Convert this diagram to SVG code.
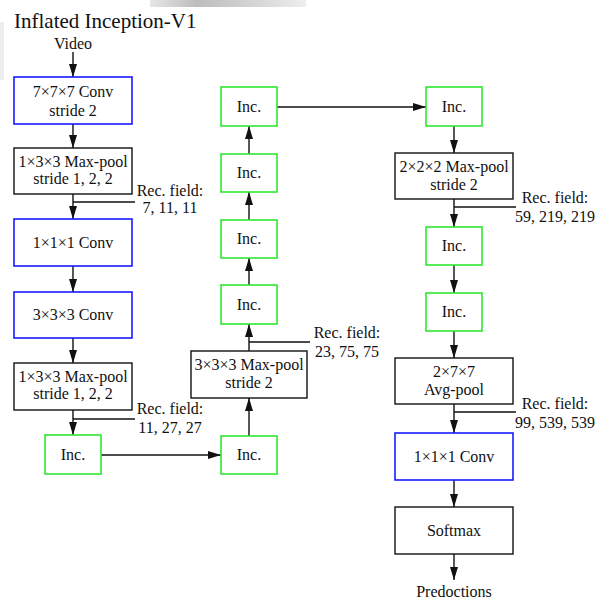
<svg xmlns="http://www.w3.org/2000/svg" width="606" height="599" viewBox="0 0 606 599">
<style>
text{font-family:"Liberation Serif","Times New Roman",serif;font-size:16px;fill:#111;text-anchor:middle}
.title{font-size:21px;text-anchor:start}
.box{fill:#fff;stroke:#111;stroke-width:1.4}
.conv{fill:#fff;stroke:#1a1aff;stroke-width:1.6}
.inc{fill:#fff;stroke:#2fe82f;stroke-width:1.6}
.edge{stroke:#111;stroke-width:1.4;fill:none}
.arr{marker-end:url(#ah)}
</style>
<defs>
<marker id="ah" viewBox="0 0 13 8" refX="13" refY="4" markerWidth="13" markerHeight="8" markerUnits="userSpaceOnUse" orient="auto">
<path d="M0,0 L13,4 L0,8 z" fill="#111"/>
</marker>
<linearGradient id="smudge" x1="0" y1="0" x2="1" y2="0">
<stop offset="0" stop-color="#e6e6e6"/>
<stop offset="0.3" stop-color="#bdbdbd"/>
<stop offset="0.6" stop-color="#d0d0d0"/>
<stop offset="1" stop-color="#eeeeee"/>
</linearGradient>
</defs>
<rect width="606" height="599" fill="#fff"/>
<g id="background">
<rect x="150" y="0" width="156" height="7" fill="url(#smudge)"/>
<rect x="0" y="22" width="4" height="58" fill="#eeeeee"/>
</g>
<text class="title" x="14" y="28">Inflated Inception-V1</text>
<text x="73" y="49">Video</text>
<text x="454" y="597">Predoctions</text>

<g id="connectors">
<line class="edge arr" x1="73" y1="52" x2="73" y2="77"/>
<line class="edge arr" x1="73" y1="124" x2="73" y2="148"/>
<line class="edge arr" x1="73" y1="194" x2="73" y2="219"/>
<line class="edge" x1="73" y1="202" x2="135" y2="202"/>
<line class="edge arr" x1="73" y1="266" x2="73" y2="292"/>
<line class="edge arr" x1="73" y1="338" x2="73" y2="363"/>
<line class="edge arr" x1="73" y1="410" x2="73" y2="435"/>
<line class="edge" x1="73" y1="419" x2="135" y2="419"/>
<line class="edge arr" x1="101" y1="455" x2="221" y2="455"/>
<line class="edge arr" x1="249" y1="436" x2="249" y2="398"/>
<line class="edge arr" x1="249" y1="351" x2="249" y2="324"/>
<line class="edge" x1="249" y1="342" x2="310" y2="342"/>
<line class="edge arr" x1="249" y1="285" x2="249" y2="258"/>
<line class="edge arr" x1="249" y1="220" x2="249" y2="192"/>
<line class="edge arr" x1="249" y1="154" x2="249" y2="126"/>
<line class="edge arr" x1="277" y1="107" x2="426" y2="107"/>
<line class="edge arr" x1="454" y1="126" x2="454" y2="153"/>
<line class="edge arr" x1="454" y1="199" x2="454" y2="227"/>
<line class="edge" x1="454" y1="207" x2="516" y2="207"/>
<line class="edge arr" x1="454" y1="265" x2="454" y2="293"/>
<line class="edge arr" x1="454" y1="331" x2="454" y2="358"/>
<line class="edge arr" x1="454" y1="404" x2="454" y2="433"/>
<line class="edge" x1="454" y1="412" x2="516" y2="412"/>
<line class="edge arr" x1="454" y1="480" x2="454" y2="507"/>
<line class="edge arr" x1="454" y1="554" x2="454" y2="580"/>
</g>

<g id="recfields">
<text x="170" y="196">Rec. field:</text>
<text x="170" y="213">7, 11, 11</text>
<text x="170" y="414">Rec. field:</text>
<text x="170" y="433">11, 27, 27</text>
<text x="347" y="338">Rec. field:</text>
<text x="347" y="357">23, 75, 75</text>
<text x="555" y="203">Rec. field:</text>
<text x="555" y="222">59, 219, 219</text>
<text x="555" y="409">Rec. field:</text>
<text x="555" y="428">99, 539, 539</text>
</g>

<g id="conv7">
<rect class="conv" x="14" y="77" width="118" height="47"/>
<text x="73" y="97">7×7×7 Conv</text>
<text x="73" y="116">stride 2</text>
</g>
<g id="maxpool1">
<rect class="box" x="14" y="148" width="118" height="46"/>
<text x="73" y="167">1×3×3 Max-pool</text>
<text x="73" y="184">stride 1, 2, 2</text>
</g>
<g id="conv1">
<rect class="conv" x="14" y="219" width="118" height="47"/>
<text x="73" y="248">1×1×1 Conv</text>
</g>
<g id="conv3">
<rect class="conv" x="14" y="292" width="118" height="46"/>
<text x="73" y="320">3×3×3 Conv</text>
</g>
<g id="maxpool2">
<rect class="box" x="14" y="363" width="118" height="47"/>
<text x="73" y="382">1×3×3 Max-pool</text>
<text x="73" y="399">stride 1, 2, 2</text>
</g>
<g id="inc1">
<rect class="inc" x="45" y="435" width="56" height="39"/>
<text x="73" y="460">Inc.</text>
</g>
<g id="inc2">
<rect class="inc" x="221" y="436" width="56" height="38"/>
<text x="249" y="460">Inc.</text>
</g>
<g id="maxpool3">
<rect class="box" x="191" y="351" width="116" height="47"/>
<text x="249" y="370">3×3×3 Max-pool</text>
<text x="249" y="388">stride 2</text>
</g>
<g id="inc3">
<rect class="inc" x="221" y="285" width="56" height="39"/>
<text x="249" y="310">Inc.</text>
</g>
<g id="inc4">
<rect class="inc" x="221" y="220" width="56" height="38"/>
<text x="249" y="244">Inc.</text>
</g>
<g id="inc5">
<rect class="inc" x="221" y="154" width="56" height="38"/>
<text x="249" y="178">Inc.</text>
</g>
<g id="inc6">
<rect class="inc" x="221" y="87" width="56" height="39"/>
<text x="249" y="112">Inc.</text>
</g>
<g id="inc7">
<rect class="inc" x="426" y="87" width="56" height="39"/>
<text x="454" y="112">Inc.</text>
</g>
<g id="maxpool4">
<rect class="box" x="395" y="153" width="118" height="46"/>
<text x="454" y="172">2×2×2 Max-pool</text>
<text x="454" y="190">stride 2</text>
</g>
<g id="inc8">
<rect class="inc" x="426" y="227" width="56" height="38"/>
<text x="454" y="251">Inc.</text>
</g>
<g id="inc9">
<rect class="inc" x="426" y="293" width="56" height="38"/>
<text x="454" y="317">Inc.</text>
</g>
<g id="avgpool">
<rect class="box" x="395" y="358" width="118" height="46"/>
<text x="454" y="377">2×7×7</text>
<text x="454" y="395">Avg-pool</text>
</g>
<g id="conv1b">
<rect class="conv" x="395" y="433" width="118" height="47"/>
<text x="454" y="462">1×1×1 Conv</text>
</g>
<g id="softmax">
<rect class="box" x="395" y="507" width="118" height="47"/>
<text x="454" y="536">Softmax</text>
</g>
</svg>
